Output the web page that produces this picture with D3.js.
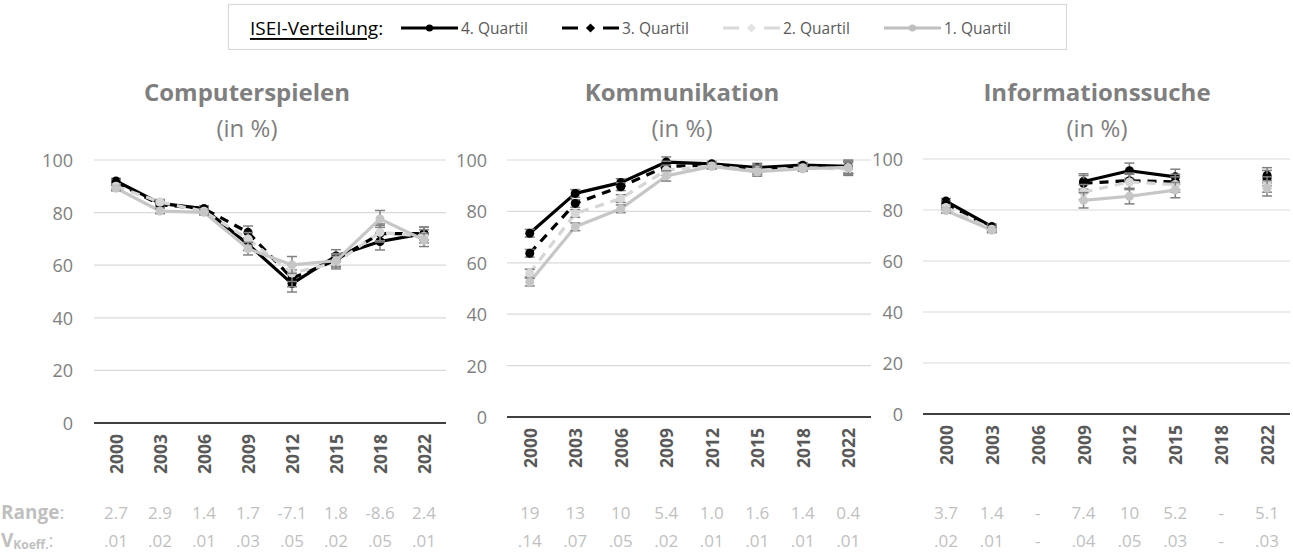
<!DOCTYPE html>
<html><head><meta charset="utf-8">
<script src="https://cdn.jsdelivr.net/npm/d3@7"></script>
<style>body{margin:0;background:#fff} svg{display:block;font-family:"Open Sans",sans-serif}</style>
</head><body><svg id="c" width="1293" height="559"></svg>
<script>
// ---------- data ----------
const years = ["2000","2003","2006","2009","2012","2015","2018","2022"];
const yTicks = [0,20,40,60,80,100];
const seriesNames = ["4. Quartil","3. Quartil","2. Quartil","1. Quartil"];
const panelTitles = ["Computerspielen","Kommunikation","Informationssuche"];
const subTitle = "(in %)";
const legendTitle = "ISEI-Verteilung";

const compQ4 = [92, 83.5, 81.5, 68, 53, 63.5, 69, 72];
const compQ3 = [91.5, 83, 81.5, 72.5, 55, 62, 72, 72];
const compQ2 = [90, 84, 80.5, 70, 57, 61, 72.5, 71];
const compQ1 = [89.3, 80.6, 80.1, 66.3, 60.1, 61.7, 77.6, 69.6];
const compErr = [1, 1, 1, 2.4, 3.2, 2.4, 3.2, 2.5];

const kommQ4 = [71.5, 87, 91.2, 99.2, 98.5, 97, 98, 97.5];
const kommQ3 = [63.7, 83.1, 89.6, 97.5, 98, 96.5, 97.5, 97];
const kommQ2 = [56, 79.2, 85, 96, 97.7, 96, 97, 96.5];
const kommQ1 = [52.5, 74, 81, 93.8, 97.5, 95.4, 96.6, 97.1];
const kommErr = [1.5, 1.5, 1.5, 2, 1, 1.7, 1, 2.5];

const infoQ4 = [83.5, 73.5, null, 91.2, 95.4, 93, null, 93.6];
const infoQ3 = [82.5, 73, null, 90.5, 91.5, 91, null, 92.5];
const infoQ2 = [81, 72.5, null, 87, 91, 90, null, 90];
const infoQ1 = [79.8, 72.1, null, 83.8, 85.4, 87.8, null, 88.5];
const infoErr = [1, 1, null, 3, 3, 3, null, 3];

const compRange = ["2.7","2.9","1.4","1.7","-7.1","1.8","-8.6","2.4"];
const compVk = [".01",".02",".01",".03",".05",".02",".05",".01"];
const kommRange = ["19","13","10","5.4","1.0","1.6","1.4","0.4"];
const kommVk = [".14",".07",".05",".02",".01",".01",".01",".01"];
const infoRange = ["3.7","1.4","-","7.4","10","5.2","-","5.1"];
const infoVk = [".02",".01","-",".04",".05",".03","-",".03"];

// ---------- layout / style ----------
const panels = [
  {series:[compQ4,compQ3,compQ2,compQ1], err:compErr, range:compRange, vk:compVk,
   x0:94, x1:446, yTop:160, yBot:423, labelRight:73, yearGap:11, titleX:247},
  {series:[kommQ4,kommQ3,kommQ2,kommQ1], err:kommErr, range:kommRange, vk:kommVk,
   x0:507, x1:871, yTop:160, yBot:417, labelRight:487, yearGap:11, titleX:682},
  {series:[infoQ4,infoQ3,infoQ2,infoQ1], err:infoErr, range:infoRange, vk:infoVk,
   x0:923, x1:1290, yTop:159, yBot:414, labelRight:903, yearGap:11, titleX:1097}
];
const styles = [
  {color:"#000000", dash:null, mcolor:"#000000"},
  {color:"#000000", dash:"9,7", mcolor:"#000000"},
  {color:"#d6d6d6", dash:"9,7", mcolor:"#d6d6d6"},
  {color:"#c6c6c6", dash:null, mcolor:"#c6c6c6"}
];
const errColor = "#808080";

const svg = d3.select("#c");

panels.forEach((p, pi) => {
  const x = d3.scaleBand().domain(years).range([p.x0, p.x1]);
  const y = d3.scaleLinear().domain([0,100]).range([p.yBot, p.yTop]);
  const g = svg.append("g");

  g.selectAll("line.grid").data(yTicks.filter(t => t>0)).join("line")
    .attr("x1", p.x0).attr("x2", p.x1)
    .attr("y1", d => y(d)).attr("y2", d => y(d))
    .attr("stroke", "#d9d9d9").attr("stroke-width", 1.2);

  g.selectAll("text.yt").data(yTicks).join("text")
    .attr("x", p.labelRight).attr("y", d => y(d))
    .attr("text-anchor", "end").attr("dominant-baseline", "central")
    .attr("font-size", 18).attr("fill", "#808080").text(d => d);

  g.append("line").attr("x1", p.x0).attr("x2", p.x1)
    .attr("y1", y(0)).attr("y2", y(0)).attr("stroke", "#000").attr("stroke-width", 1.6);

  g.selectAll("text.yr").data(years).join("text")
    .attr("transform", d => `translate(${x(d) + x.bandwidth()/2},${y(0) + p.yearGap}) rotate(-90)`)
    .attr("text-anchor", "end").attr("dominant-baseline", "central")
    .attr("font-size", 17.5).attr("font-weight", "bold").attr("fill", "#595959").text(d => d);

  g.append("text").attr("x", p.titleX).attr("y", 101).attr("text-anchor", "middle")
    .attr("font-size", 24).attr("font-weight", "bold").attr("fill", "#7f7f7f").text(panelTitles[pi]);
  g.append("text").attr("x", p.titleX).attr("y", 137).attr("text-anchor", "middle")
    .attr("font-size", 24).attr("fill", "#7f7f7f").text(subTitle);

  const cx = i => x(years[i]) + x.bandwidth()/2;

  p.series.forEach((vals, si) => {
    const st = styles[si];
    const line = d3.line().defined(d => d != null).x((d, i) => cx(i)).y(d => y(d));
    g.append("path").datum(vals).attr("d", line)
      .attr("fill", "none").attr("stroke", st.color).attr("stroke-width", 3.2)
      .attr("stroke-dasharray", st.dash).attr("stroke-linejoin", "round");
    const eg = g.append("g");
    vals.forEach((v, i) => {
      if (v == null || p.err[i] == null) return;
      const e = p.err[i];
      eg.append("line").attr("x1", cx(i)).attr("x2", cx(i)).attr("y1", y(v - e)).attr("y2", y(v + e))
        .attr("stroke", errColor).attr("stroke-width", 1.5);
      [v - e, v + e].forEach(b => eg.append("line").attr("x1", cx(i) - 5).attr("x2", cx(i) + 5)
        .attr("y1", y(b)).attr("y2", y(b)).attr("stroke", errColor).attr("stroke-width", 1.5));
    });
    g.selectAll(null).data(vals.map((v, i) => ({v, i})).filter(d => d.v != null)).join("circle")
      .attr("cx", d => cx(d.i)).attr("cy", d => y(d.v)).attr("r", 4.5)
      .attr("fill", st.mcolor);
  });

  g.selectAll("text.rg").data(p.range).join("text")
    .attr("x", (d, i) => cx(i)).attr("y", 512).attr("text-anchor", "middle")
    .attr("dominant-baseline", "central").attr("font-size", 17).attr("fill", "#bfbfbf").text(d => d);
  g.selectAll("text.vk").data(p.vk).join("text")
    .attr("x", (d, i) => cx(i)).attr("y", 540).attr("text-anchor", "middle")
    .attr("dominant-baseline", "central").attr("font-size", 17).attr("fill", "#bfbfbf").text(d => d);
});

const rl = svg.append("text").attr("x", 1).attr("y", 512).attr("dominant-baseline", "central")
  .attr("font-size", 19).attr("fill", "#bfbfbf");
rl.append("tspan").attr("font-weight", "bold").text("Range");
rl.append("tspan").text(":");
const vl = svg.append("text").attr("x", 1).attr("y", 540).attr("dominant-baseline", "central")
  .attr("font-size", 19).attr("fill", "#bfbfbf");
vl.append("tspan").attr("font-weight", "bold").text("V");
vl.append("tspan").attr("font-weight", "bold").attr("font-size", 12).attr("dy", 4).text("Koeff.");
vl.append("tspan").attr("dy", -4).text(":");

// legend
const lg = svg.append("g");
lg.append("rect").attr("x", 228.5).attr("y", 4.5).attr("width", 838).attr("height", 45)
  .attr("fill", "#fff").attr("stroke", "#d9d9d9").attr("stroke-width", 1.2);
const lt = lg.append("text").attr("x", 250).attr("y", 28).attr("dominant-baseline", "central")
  .attr("font-size", 19).attr("fill", "#000");
lt.append("tspan").attr("text-decoration", "underline").text(legendTitle);
lt.append("tspan").text(":");
const legX = [401, 562, 723, 884];
const legLine = ["#000", "#000", "#d9d9d9", "#bfbfbf"];
const legMark = ["#000", "#000", "#e3e3e3", "#bfbfbf"];
seriesNames.forEach((n, si) => {
  const st = styles[si];
  const lx = legX[si];
  const isDia = si === 1 || si === 2;
  lg.append("line").attr("x1", lx).attr("x2", lx + 57).attr("y1", 28).attr("y2", 28)
    .attr("stroke", legLine[si]).attr("stroke-width", 3)
    .attr("stroke-dasharray", st.dash ? "16,25,16" : null);
  lg.append("path").attr("transform", `translate(${lx + 28.5},28)` + (isDia ? " rotate(45)" : ""))
    .attr("d", d3.symbol(isDia ? d3.symbolSquare : d3.symbolCircle, isDia ? 42 : 40)())
    .attr("fill", legMark[si]);
  lg.append("text").attr("x", lx + 60).attr("y", 28).attr("dominant-baseline", "central")
    .attr("font-size", 15.5).attr("fill", "#595959").text(n);
});
</script>
</body></html>
